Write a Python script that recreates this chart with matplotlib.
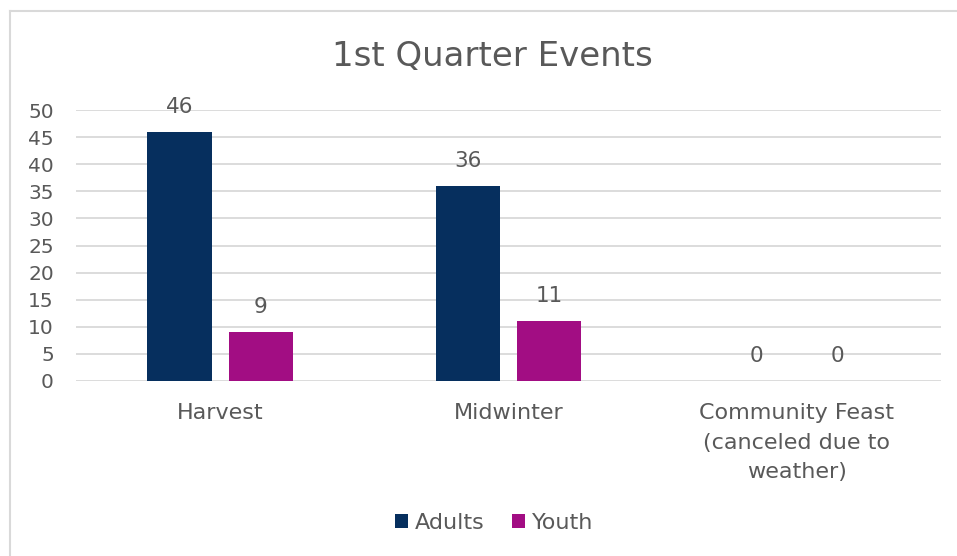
import numpy as np
import matplotlib
matplotlib.use('Agg')
import matplotlib.pyplot as plt
from matplotlib.lines import Line2D

categories = ['Harvest', 'Midwinter', 'Community Feast\n(canceled due to\nweather)']
adults = [46, 36, 0]
youth = [9, 11, 0]
series_names = ['Adults', 'Youth']

c_adults = '#062F5E'
c_youth = '#A20D83'
txt = '#595959'
grid = '#D9D9D9'

plt.rcParams['font.family'] = ['DejaVu Sans']

fig = plt.figure(figsize=(9.57, 5.56), dpi=100)
ax = fig.add_axes([76/957, 1-381/556, (941-76)/957, (381-110)/556])

x = np.arange(len(categories))
w = 0.223
off = 0.141
b1 = ax.bar(x - off, adults, w, color=c_adults, label=series_names[0], zorder=3)
b2 = ax.bar(x + off, youth, w, color=c_youth, label=series_names[1], zorder=3)

for bars, vals in [(b1, adults), (b2, youth)]:
    for b, v in zip(bars, vals):
        ax.text(b.get_x() + b.get_width()/2, v + 2.8, str(v), ha='center', va='bottom',
                fontsize=15.5, color=txt, zorder=4)

ax.set_xlim(-0.5, 2.5)
ax.set_ylim(0, 50)
ax.set_yticks(range(0, 51, 5))
ax.yaxis.grid(True, color=grid, lw=1.3, zorder=0)
ax.set_axisbelow(True)
for s in ax.spines.values():
    s.set_visible(False)
ax.tick_params(axis='both', length=0, colors=txt, labelsize=14.5)
ax.tick_params(axis='y', pad=16)
ax.tick_params(axis='x', pad=16)
ax.set_xticks(x)
ax.set_xticklabels(categories, linespacing=1.58, fontsize=16)
for lab in ax.get_yticklabels():
    lab.set_horizontalalignment('right')

fig.text(492/957, 1-56/556, '1st Quarter Events', ha='center', va='center',
         fontsize=24.5, color=txt)

fig.legend(handles=[b1, b2], labels=series_names, loc='center', bbox_to_anchor=(494/957, 1-523/556),
           ncol=2, frameon=False, fontsize=16, labelcolor=txt, handlelength=0.6,
           handleheight=0.6, handletextpad=0.3, columnspacing=1.2)

# chart-area border (left and top edges visible)
fig.add_artist(Line2D([10/957, 10/957], [0, 1-11/556], transform=fig.transFigure, color=grid, lw=1.5))
fig.add_artist(Line2D([10/957, 1], [1-11/556, 1-11/556], transform=fig.transFigure, color=grid, lw=1.5))

fig.savefig('out.png', dpi=100)
